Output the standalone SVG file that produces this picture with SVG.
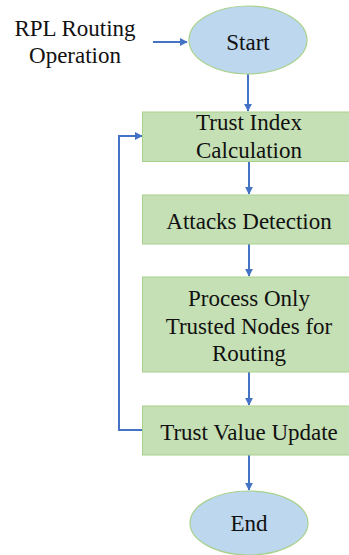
<svg xmlns="http://www.w3.org/2000/svg" width="349" height="555" viewBox="0 0 349 555">
<style>
.box{fill:#c5e0b4;stroke:#a9d18e;stroke-width:1}
.term{fill:#bdd7ee;stroke:#a9d18e;stroke-width:1.2}
.t{font-family:'Liberation Serif','Times New Roman',serif;font-size:23px;fill:#111111;text-anchor:middle;dominant-baseline:central}
.c{fill:none;stroke:#4472c4;stroke-width:2;marker-end:url(#ah)}
</style>
<defs>
<marker id="ah" viewBox="0 0 10 10" refX="9" refY="5" markerWidth="4" markerHeight="4" orient="auto" markerUnits="strokeWidth">
<path d="M0,0 L10,5 L0,10 z" fill="#4472c4"/>
</marker>
</defs>
<rect width="349" height="555" fill="#ffffff"/>
<g id="connectors">
<path class="c" d="M153,42 H187"/>
<path class="c" d="M248,74 V111"/>
<path class="c" d="M249,162 V194"/>
<path class="c" d="M249,244 V276"/>
<path class="c" d="M249,372 V405"/>
<path class="c" d="M249,455 V490"/>
<path class="c" d="M143,430 H119 V136 H142"/>
</g>
<g id="label-rpl">
<text class="t" x="75" y="28">RPL Routing</text>
<text class="t" x="75" y="55">Operation</text>
</g>
<g id="start">
<ellipse class="term" cx="248" cy="40" rx="59" ry="34"/>
<text class="t" x="248" y="42">Start</text>
</g>
<g id="trust-index">
<rect class="box" x="142.5" y="112" width="213" height="49.5"/>
<text class="t" x="249" y="122">Trust Index</text>
<text class="t" x="249" y="150">Calculation</text>
</g>
<g id="attacks">
<rect class="box" x="142.5" y="195" width="213" height="49"/>
<text class="t" x="249" y="221">Attacks Detection</text>
</g>
<g id="process">
<rect class="box" x="142.5" y="277" width="213" height="95"/>
<text class="t" x="249" y="298">Process Only</text>
<text class="t" x="249" y="326">Trusted Nodes for</text>
<text class="t" x="249" y="353">Routing</text>
</g>
<g id="trust-value">
<rect class="box" x="142.5" y="406" width="213" height="49"/>
<text class="t" x="249" y="432">Trust Value Update</text>
</g>
<g id="end">
<ellipse class="term" cx="249" cy="523" rx="59" ry="32"/>
<text class="t" x="249" y="523">End</text>
</g>
</svg>
